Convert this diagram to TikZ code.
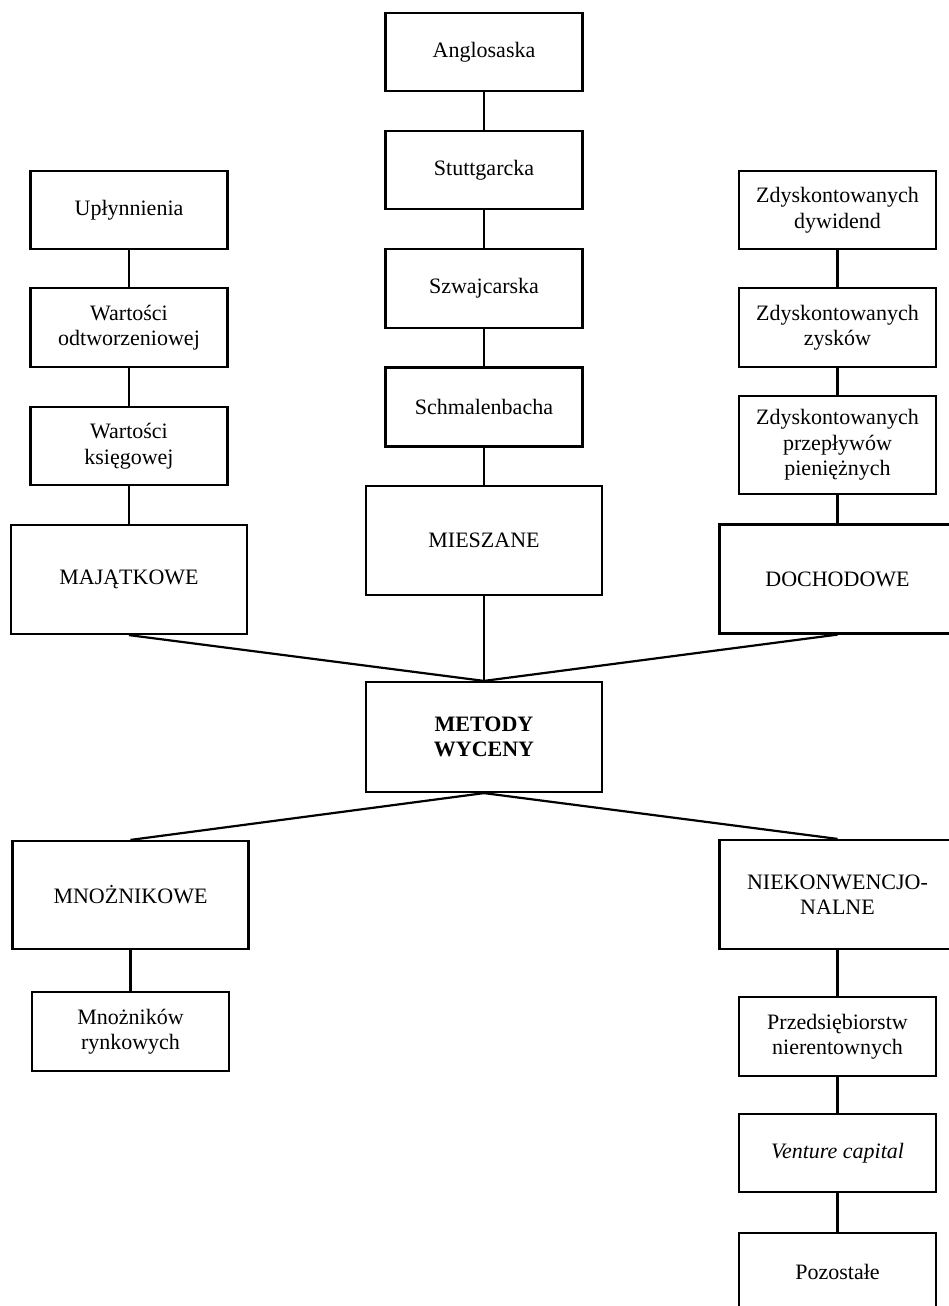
\documentclass[tikz,border=0pt]{standalone}
\usepackage{fontspec}
\setmainfont{Liberation Serif}
\begin{document}
\begin{tikzpicture}[x=1pt,y=-1pt,
  box/.style={draw, line width=2.2pt, rectangle, inner sep=0pt, align=center,
    font=\fontsize{22}{25.5}\selectfont},
  small/.style={box, minimum width=197pt, minimum height=78pt},
  big/.style={box, minimum width=236pt, minimum height=109pt},
  boldtext/.style={font=\fontsize{22}{25.5}\selectfont\bfseries},
  link/.style={line width=2.2pt}]
\useasboundingbox (0,0) rectangle (949,1306);

% centre column: mixed methods
\node[small] (angl) at (484,52) {Anglosaska};
\node[small] (stut) at (484,170) {Stuttgarcka};
\node[small, minimum height=79pt] (szwa) at (484,288.5) {Szwajcarska};
\node[small, minimum height=79pt] (schm) at (484,407) {Schmalenbacha};
\node[big] (mies) at (484,540.5) {MIESZANE};
\node[big, minimum height=110pt, boldtext] (met) at (484,737) {METODY\\WYCENY};

% left column: asset-based methods
\node[small] (upl) at (129,210) {Upłynnienia};
\node[small, minimum height=79pt] (wodt) at (129,327.5) {Wartości\\odtworzeniowej};
\node[small] (wksi) at (129,446) {Wartości\\księgowej};
\node[big] (maj) at (129,579.5) {MAJĄTKOWE};

% right column: income-based methods
\node[small] (dyw) at (837.5,210) {Zdyskontowanych\\dywidend};
\node[small, minimum height=79pt] (zys) at (837.5,327.5) {Zdyskontowanych\\zysków};
\node[small, minimum height=98pt] (prz) at (837.5,445) {Zdyskontowanych\\przepływów\\pieniężnych};
\node[big] (doch) at (837.5,579) {DOCHODOWE};

% lower branches
\node[big, minimum height=108pt] (mno) at (130.5,895) {MNOŻNIKOWE};
\node[small, minimum height=79pt] (mry) at (130.5,1031.5) {Mnożników\\rynkowych};
\node[big] (niek) at (837.5,894.5) {NIEKONWENCJO-\\NALNE};
\node[small, minimum height=79pt] (prze) at (837.5,1036.5) {Przedsiębiorstw\\nierentownych};
\node[small] (vent) at (837.5,1153) {\textit{Venture capital}};
\node[small] (poz) at (837.5,1272) {Pozostałe};

% chains
\draw[link] (angl.south) -- (stut.north);
\draw[link] (stut.south) -- (szwa.north);
\draw[link] (szwa.south) -- (schm.north);
\draw[link] (schm.south) -- (mies.north);
\draw[link] (mies.south) -- (met.north);

\draw[link] (upl.south) -- (wodt.north);
\draw[link] (wodt.south) -- (wksi.north);
\draw[link] (wksi.south) -- (maj.north);

\draw[link] (dyw.south) -- (zys.north);
\draw[link] (zys.south) -- (prz.north);
\draw[link] (prz.south) -- (doch.north);

\draw[link] (mno.south) -- (mry.north);
\draw[link] (niek.south) -- (prze.north);
\draw[link] (prze.south) -- (vent.north);
\draw[link] (vent.south) -- (poz.north);

% links to the central node
\draw[link] (maj.south) -- (met.north);
\draw[link] (doch.south) -- (met.north);
\draw[link] (met.south) -- (mno.north);
\draw[link] (met.south) -- (niek.north);
\end{tikzpicture}
\end{document}
